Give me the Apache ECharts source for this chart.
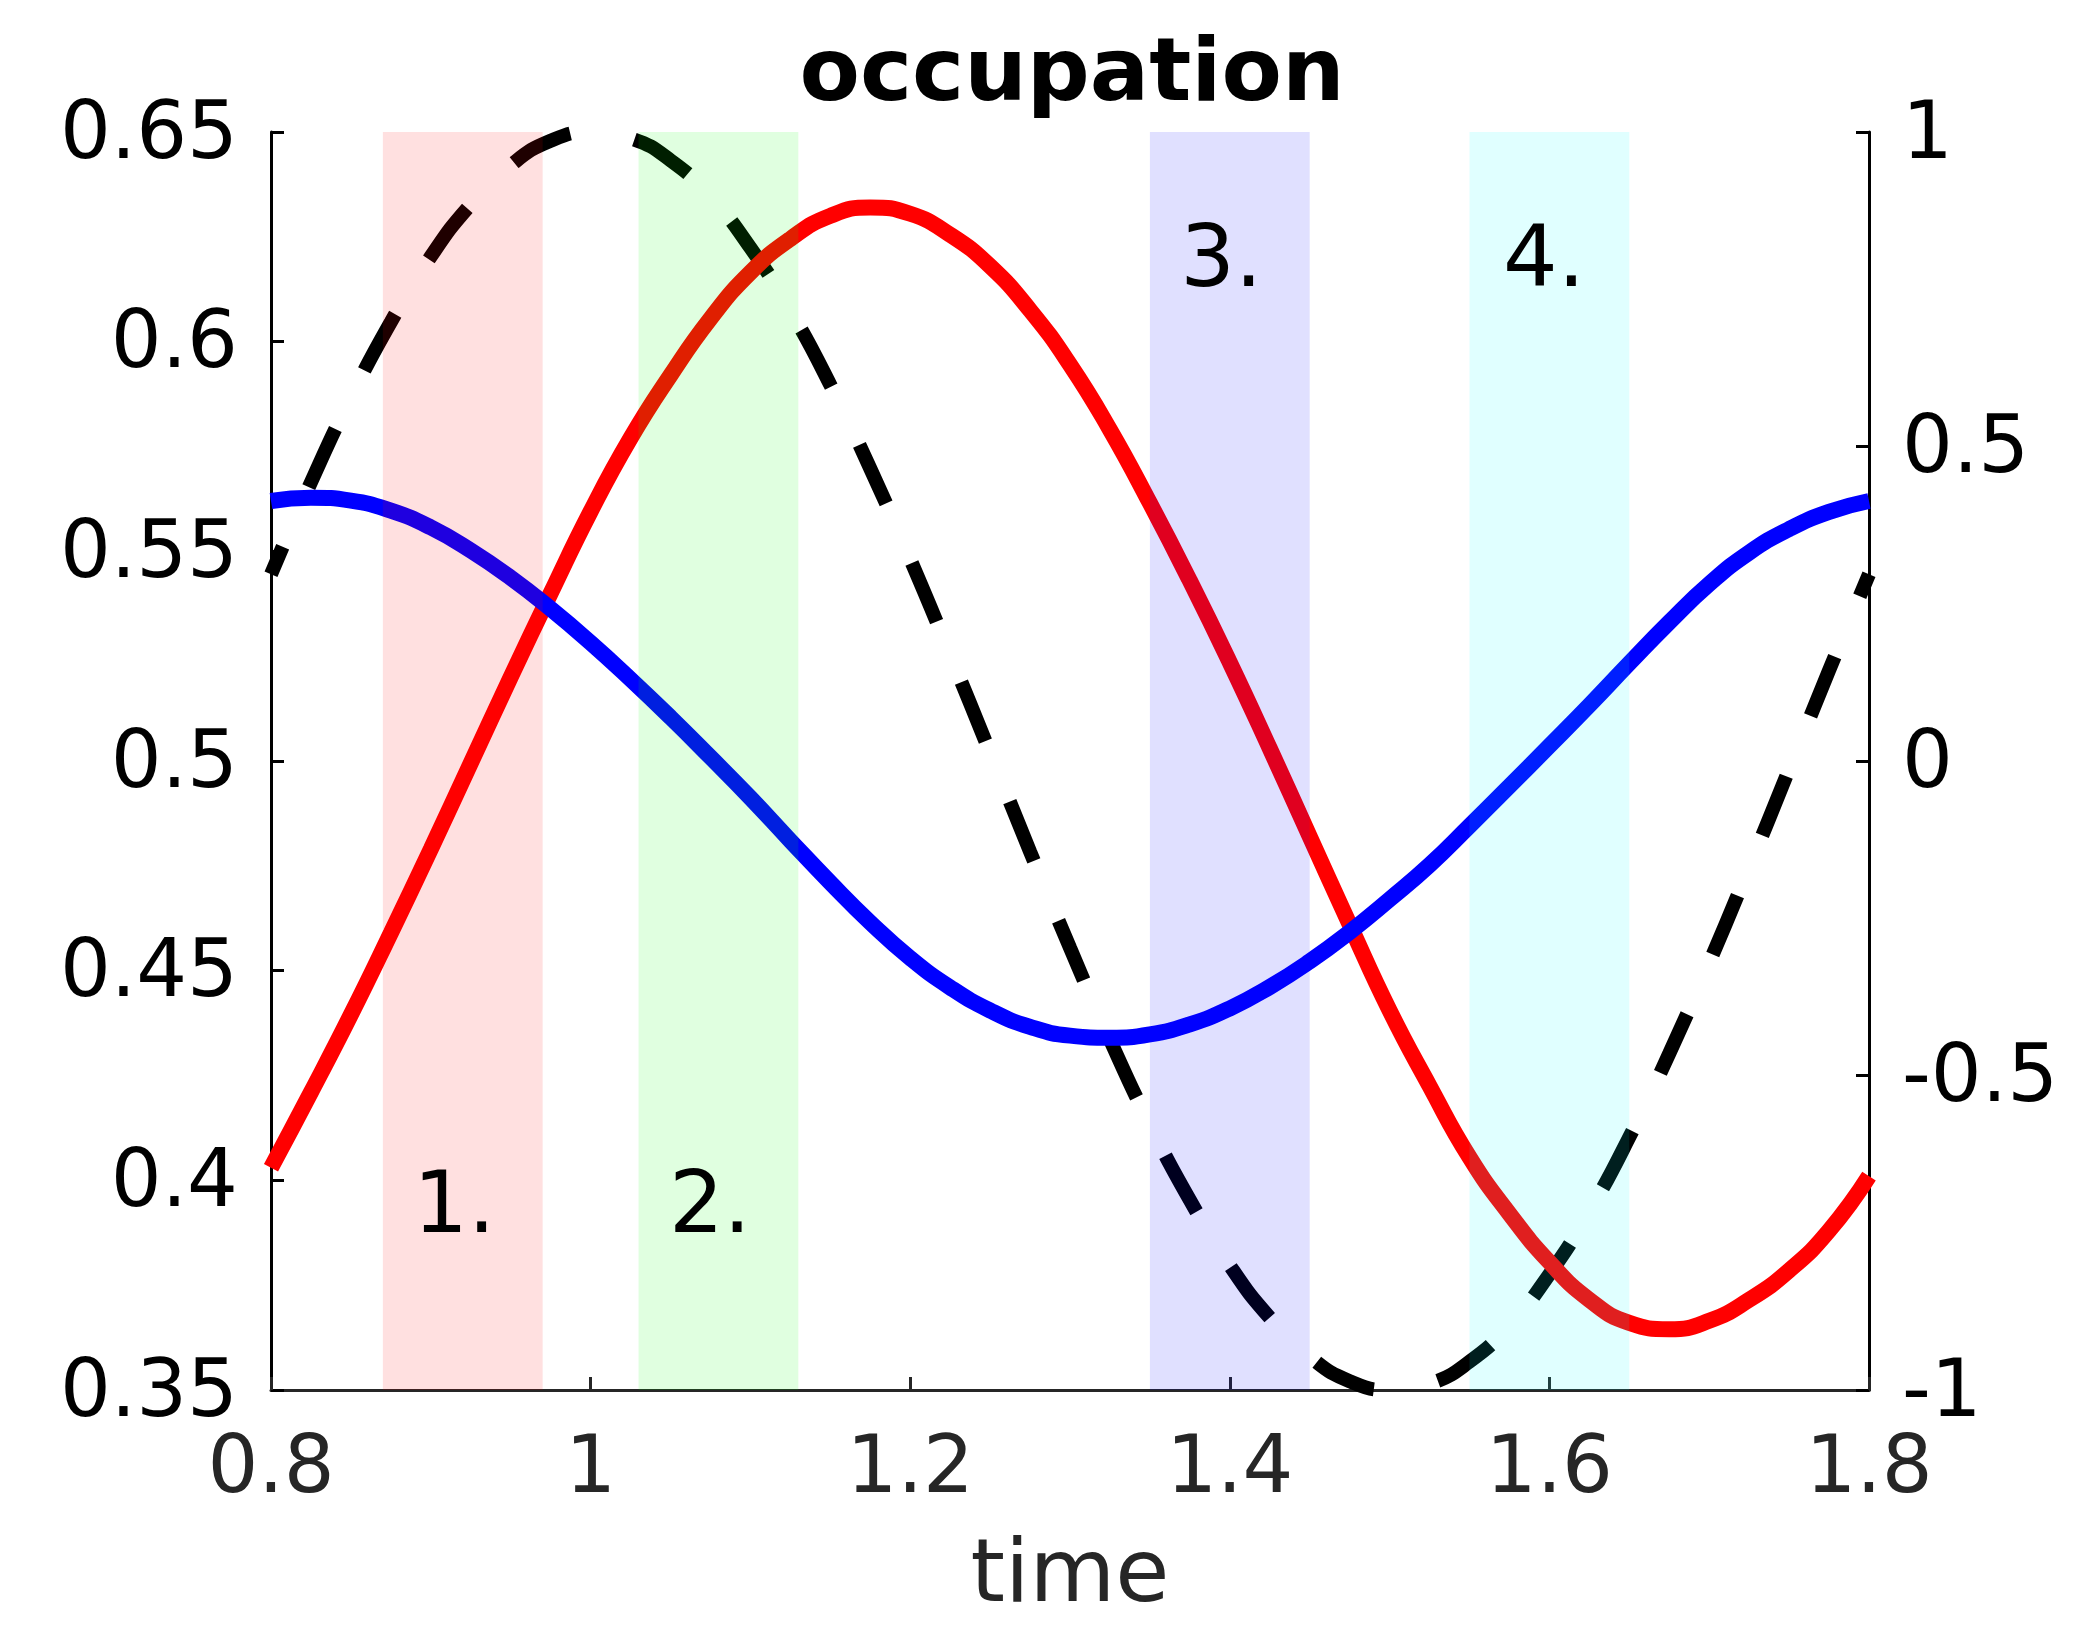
<!DOCTYPE html>
<html>
<head>
<meta charset="utf-8">
<script src="https://cdn.jsdelivr.net/npm/echarts@6/dist/echarts.min.js"></script>
<style>
html, body { margin: 0; padding: 0; background: #ffffff; }
#chart { width: 2076px; height: 1632px; }
</style>
</head>
<body>
<div id="chart"></div>
<script>
// ---- data ----
const time = [0.8, 0.825, 0.85, 0.875, 0.9, 0.925, 0.95, 0.975, 1.0, 1.025,
  1.05, 1.075, 1.1, 1.125, 1.15, 1.175, 1.2, 1.225, 1.25, 1.275,
  1.3, 1.325, 1.35, 1.375, 1.4, 1.425, 1.45, 1.475, 1.5, 1.525,
  1.55, 1.575, 1.6, 1.625, 1.65, 1.675, 1.7, 1.725, 1.75, 1.775, 1.8];

// red occupation (left axis)
const redOccupation = [0.403, 0.421, 0.4395, 0.459, 0.479, 0.4995, 0.520, 0.540, 0.5595, 0.577,
  0.592, 0.6055, 0.6165, 0.6245, 0.630, 0.632, 0.6305, 0.6255, 0.618, 0.6075,
  0.5945, 0.579, 0.5615, 0.543, 0.5235, 0.503, 0.482, 0.461, 0.4405, 0.4225,
  0.4055, 0.392, 0.3805, 0.3715, 0.366, 0.3645, 0.3665, 0.3715, 0.3785, 0.388, 0.401];

// blue occupation (left axis)
const blueOccupation = [0.5620, 0.5628, 0.5621, 0.5597, 0.5557, 0.5502, 0.5437, 0.5363, 0.5282, 0.5195,
  0.5104, 0.5009, 0.4912, 0.4810, 0.4710, 0.4615, 0.4530, 0.4460, 0.4405, 0.4366,
  0.4345, 0.4340, 0.4348, 0.4372, 0.4410, 0.4461, 0.4522, 0.4592, 0.4670, 0.4752,
  0.4845, 0.4940, 0.5036, 0.5133, 0.5233, 0.5331, 0.5422, 0.5497, 0.5553, 0.5594, 0.5620];

// dashed black drive (right axis)
const drive = [0.297, 0.443, 0.578, 0.698, 0.802, 0.885, 0.947, 0.986, 1.000, 0.990,
  0.955, 0.897, 0.816, 0.716, 0.598, 0.465, 0.321, 0.169, 0.013, -0.144,
  -0.297, -0.443, -0.578, -0.698, -0.802, -0.885, -0.947, -0.986, -1.000, -0.990,
  -0.955, -0.897, -0.816, -0.716, -0.598, -0.465, -0.321, -0.169, -0.013, 0.144, 0.297];

// shaded time windows and their labels
const regionStarts = [0.87, 1.03, 1.35, 1.55];
const regionEnds = [0.97, 1.13, 1.45, 1.65];
const regionLabels = ['1.', '2.', '3.', '4.'];
const regionLabelTime = [0.889, 1.049, 1.369, 1.571];
const regionLabelValue = [0.393, 0.393, 0.6185, 0.6185];

// axes
const xMin = 0.8, xMax = 1.8, xStep = 0.2;
const leftMin = 0.35, leftMax = 0.65, leftStep = 0.05;
const rightMin = -1, rightMax = 1, rightStep = 0.5;

const titleText = 'occupation';
const xName = 'time';

// ---- styles ----
const FONT = '"DejaVu Sans", "Liberation Sans", sans-serif';
const regionColors = ['rgba(255,0,0,0.12)', 'rgba(0,255,0,0.12)', 'rgba(0,0,255,0.12)', 'rgba(0,255,255,0.12)'];

const pairs = (ys) => time.map((t, i) => [t, ys[i]]);
const regionData = regionStarts.map((s, i) => [s, regionEnds[i], regionLabelTime[i], regionLabelValue[i]]);

const yLabelStyle = {
  formatter: '{t|{value}}',
  margin: 33,
  rich: { t: { fontSize: 80, fontFamily: FONT, color: '#000000', padding: [10, 0, 0, 0] } }
};

const chart = echarts.init(document.getElementById('chart'), null, { renderer: 'canvas' });

chart.setOption({
  animation: false,
  backgroundColor: '#ffffff',
  title: {
    text: titleText,
    left: 1072,
    top: 33,
    textAlign: 'center',
    padding: 0,
    textStyle: { fontSize: 88, fontWeight: 'bold', fontFamily: FONT, color: '#000000' }
  },
  grid: { left: 271, right: 207, top: 132, bottom: 242, containLabel: false, outerBoundsMode: 'none' },
  xAxis: {
    type: 'value',
    min: xMin, max: xMax, interval: xStep,
    name: xName,
    nameLocation: 'middle',
    nameGap: 144,
    nameTextStyle: { fontSize: 88, fontFamily: FONT, color: '#262626' },
    axisLine: { show: true, onZero: false, lineStyle: { color: '#262626', width: 3 } },
    axisTick: { show: true, inside: true, length: 13, lineStyle: { color: '#262626', width: 3 } },
    axisLabel: { fontSize: 80, fontFamily: FONT, color: '#262626', margin: 41 },
    splitLine: { show: false }
  },
  yAxis: [
    {
      type: 'value', position: 'left',
      min: leftMin, max: leftMax, interval: leftStep,
      axisLine: { show: true, onZero: false, lineStyle: { color: '#000000', width: 3 } },
      axisTick: { show: true, inside: true, length: 13, lineStyle: { color: '#000000', width: 3 } },
      axisLabel: yLabelStyle,
      splitLine: { show: false }
    },
    {
      type: 'value', position: 'right',
      min: rightMin, max: rightMax, interval: rightStep,
      axisLine: { show: true, onZero: false, lineStyle: { color: '#000000', width: 3 } },
      axisTick: { show: true, inside: true, length: 13, lineStyle: { color: '#000000', width: 3 } },
      axisLabel: yLabelStyle,
      splitLine: { show: false }
    }
  ],
  series: [
    {
      type: 'line', name: 'red', yAxisIndex: 0, data: pairs(redOccupation),
      showSymbol: false, smooth: true, z: 3,
      lineStyle: { color: '#ff0000', width: 16 }
    },
    {
      type: 'line', name: 'blue', yAxisIndex: 0, data: pairs(blueOccupation),
      showSymbol: false, smooth: true, z: 4,
      lineStyle: { color: '#0000ff', width: 16 }
    },
    {
      type: 'line', name: 'drive', yAxisIndex: 1, data: pairs(drive),
      showSymbol: false, smooth: true, z: 2,
      lineStyle: { color: '#000000', width: 14, type: [64, 65], dashOffset: 34, cap: 'butt' }
    },
    {
      type: 'custom', name: 'windows', xAxisIndex: 0, yAxisIndex: 0, z: 10,
      data: regionData,
      encode: { x: [0, 1, 2], y: 3 },
      renderItem: function (params, api) {
        const i = params.dataIndex;
        const tl = api.coord([api.value(0), leftMax]);
        const br = api.coord([api.value(1), leftMin]);
        const lp = api.coord([api.value(2), api.value(3)]);
        return {
          type: 'group',
          children: [
            {
              type: 'rect',
              shape: { x: tl[0], y: tl[1], width: br[0] - tl[0], height: br[1] - tl[1] },
              style: { fill: regionColors[i] }
            },
            {
              type: 'text',
              x: lp[0], y: lp[1],
              style: {
                text: regionLabels[i], fill: '#000000',
                fontSize: 86, fontFamily: FONT,
                align: 'left', verticalAlign: 'middle'
              }
            }
          ]
        };
      }
    }
  ]
});
</script>
</body>
</html>
